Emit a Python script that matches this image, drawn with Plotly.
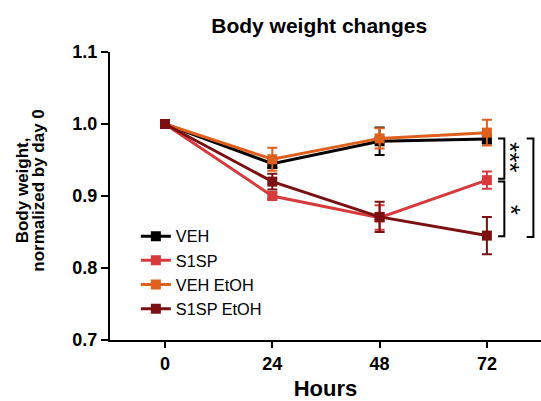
import plotly.graph_objects as go

hours = [0, 24, 48, 72]
series_names = ["VEH", "S1SP", "VEH EtOH", "S1SP EtOH"]
veh = [1.000, 0.945, 0.976, 0.979]
veh_err = [0.0, 0.006, 0.019, 0.006]
s1sp = [1.000, 0.900, 0.870, 0.922]
s1sp_err = [0.0, 0.004, 0.017, 0.012]
veh_etoh = [1.000, 0.951, 0.980, 0.988]
veh_etoh_err = [0.0, 0.016, 0.014, 0.018]
s1sp_etoh = [1.000, 0.920, 0.871, 0.845]
s1sp_etoh_err = [0.0, 0.011, 0.021, 0.026]
y_ticks = [0.7, 0.8, 0.9, 1.0, 1.1]
y_tick_labels = ["0.7", "0.8", "0.9", "1.0", "1.1"]
x_tick_labels = ["0", "24", "48", "72"]

colors = ["#000000", "#D63A3D", "#DF5F1D", "#7A1012"]
values = [veh, s1sp, veh_etoh, s1sp_etoh]
errors = [veh_err, s1sp_err, veh_etoh_err, s1sp_etoh_err]

FONT = "Liberation Sans, Arial, sans-serif"

fig = go.Figure()
for name, v, e, c in zip(series_names, values, errors, colors):
    fig.add_trace(go.Scatter(
        x=hours, y=v, name=name, mode="lines+markers",
        line=dict(color=c, width=3),
        marker=dict(symbol="square", size=10, color=c),
        error_y=dict(type="data", array=e, visible=True, color=c, thickness=2, width=5),
    ))

# significance brackets
line_style = dict(color="black", width=2)
def bracket(x_tick, x_vert, y0, y1):
    fig.add_shape(type="path", xref="x", yref="y",
                  path=f"M {x_tick},{y0} L {x_vert},{y0} L {x_vert},{y1} L {x_tick},{y1}",
                  line=line_style)

bracket(74.5, 75.9, 0.980, 0.924)
bracket(74.5, 75.9, 0.920, 0.844)
bracket(80.9, 82.4, 0.980, 0.843)

fig.add_annotation(x=77.3, y=0.9546, xref="x", yref="y", text="***", textangle=90,
                   showarrow=False, font=dict(family=FONT, size=26, color="#000000"))
fig.add_annotation(x=77.3, y=0.8815, xref="x", yref="y", text="*", textangle=90,
                   showarrow=False, font=dict(family=FONT, size=26, color="#000000"))

# y axis title (two lines)
fig.add_annotation(x=-0.204, y=0.52, xref="paper", yref="paper", text="<b>Body weight,</b>",
                   textangle=-90, showarrow=False, xanchor="center", yanchor="middle",
                   font=dict(family=FONT, size=17, color="black"))
fig.add_annotation(x=-0.166, y=0.52, xref="paper", yref="paper", text="<b>normalized by day 0</b>",
                   textangle=-90, showarrow=False, xanchor="center", yanchor="middle",
                   font=dict(family=FONT, size=17, color="black"))

fig.update_layout(
    width=541, height=401,
    margin=dict(l=110, r=0, t=52, b=61),
    paper_bgcolor="white", plot_bgcolor="white",
    font=dict(family=FONT, color="black"),
    title=dict(text="<b>Body weight changes</b>", x=0.59, xanchor="center",
               y=0.937, yanchor="middle", font=dict(family=FONT, size=21, color="black")),
    showlegend=True,
    legend=dict(x=0.06, y=0.42, xanchor="left", yanchor="top",
                font=dict(family=FONT, size=16.3, color="black"),
                bgcolor="rgba(0,0,0,0)", tracegroupgap=0, itemwidth=30),
    xaxis=dict(range=[-12.3, 84.1], tickvals=hours, ticktext=[f"<b>{t}</b>" for t in x_tick_labels],
               showline=True, linecolor="black", linewidth=2, ticks="outside", ticklen=6,
               tickwidth=2, tickcolor="black", showgrid=False, zeroline=False, automargin=False,
               tickfont=dict(family=FONT, size=18, color="black"),
               title=dict(text="<b>Hours</b>", font=dict(family=FONT, size=22, color="black"), standoff=17)),
    yaxis=dict(range=[0.7, 1.1], tickvals=y_ticks, ticktext=[f"<b>{t}</b>" for t in y_tick_labels],
               showline=True, linecolor="black", linewidth=2, ticks="outside", ticklen=7,
               tickwidth=2, tickcolor="black", showgrid=False, zeroline=False, automargin=False,
               tickfont=dict(family=FONT, size=18, color="black")),
)

fig.write_html("out.html", config={"displayModeBar": False},
               post_script="document.body.style.margin='0';document.body.style.overflow='hidden';")
